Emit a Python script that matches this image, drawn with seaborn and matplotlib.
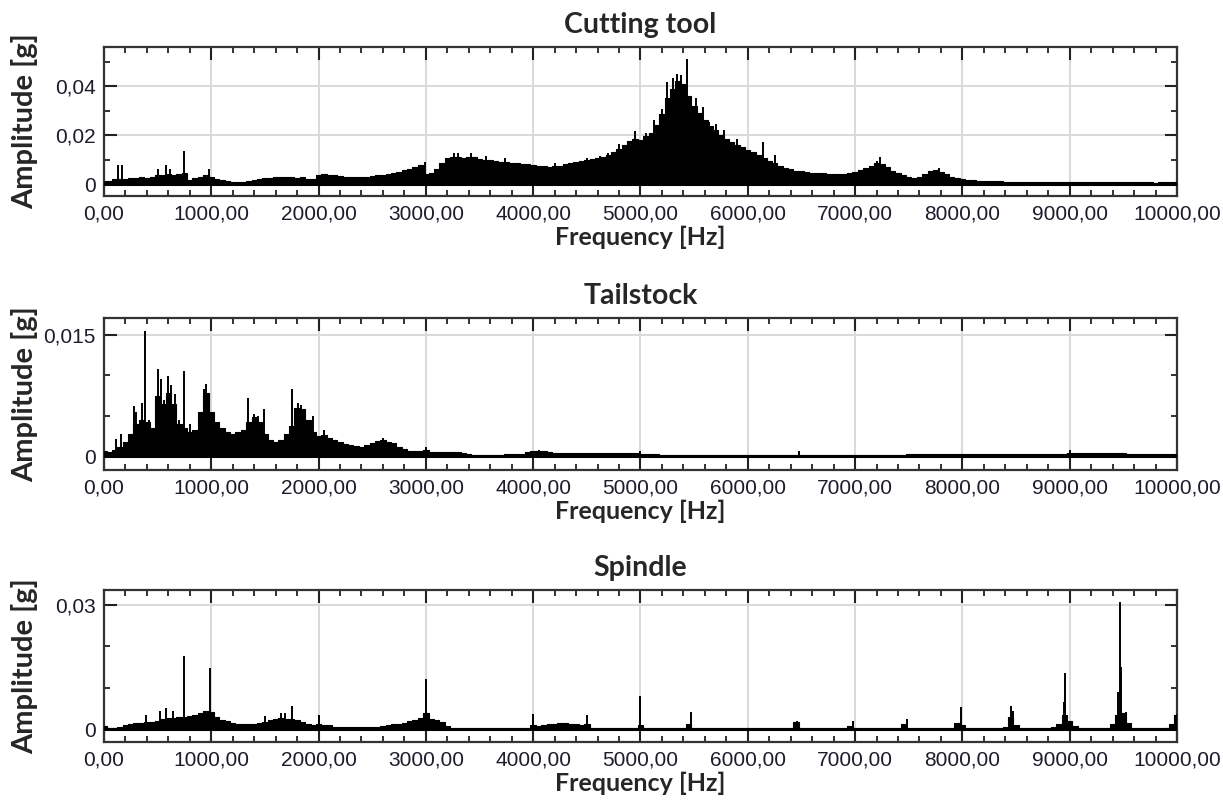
import numpy as np
import matplotlib
matplotlib.use("Agg")
import matplotlib.pyplot as plt
import seaborn as sns
from matplotlib.ticker import FixedLocator, FixedFormatter, MultipleLocator

# ---------------- data ----------------
freq = np.arange(0, 10001, 50)  # 50 Hz sampling of the envelope

titles = ["Cutting tool", "Tailstock", "Spindle"]

cutting_env = (
    [0.0013, 0.0013, 0.0020, 0.0020, 0.0022, 0.0025, 0.0025, 0.0027, 0.0025, 0.0030,
     0.0035, 0.0038, 0.0040, 0.0035, 0.0040, 0.0045, 0.0015, 0.0025, 0.0030, 0.0035] +
    [0.0030, 0.0020, 0.0018, 0.0012, 0.0010, 0.0010, 0.0010, 0.0011, 0.0015, 0.0020,
     0.0025, 0.0025, 0.0028, 0.0027, 0.0030, 0.0028, 0.0025, 0.0027, 0.0020, 0.0022] +
    [0.0035, 0.0040, 0.0038, 0.0036, 0.0033, 0.0030, 0.0028, 0.0027, 0.0028, 0.0030,
     0.0033, 0.0035, 0.0037, 0.0040, 0.0045, 0.0050, 0.0058, 0.0063, 0.0070, 0.0078] +
    [0.0040, 0.0045, 0.0060, 0.0085, 0.0105, 0.0110, 0.0112, 0.0108, 0.0112, 0.0110,
     0.0102, 0.0100, 0.0098, 0.0095, 0.0090, 0.0088, 0.0085, 0.0087, 0.0083, 0.0080] +
    [0.0078, 0.0075, 0.0073, 0.0070, 0.0072, 0.0075, 0.0080, 0.0085, 0.0088, 0.0095,
     0.0100, 0.0102, 0.0105, 0.0110, 0.0120, 0.0130, 0.0145, 0.0160, 0.0175, 0.0185] +
    [0.0180, 0.0195, 0.0210, 0.0240, 0.0285, 0.0350, 0.0390, 0.0420, 0.0410, 0.0360,
     0.0320, 0.0290, 0.0260, 0.0235, 0.0220, 0.0200, 0.0185, 0.0170, 0.0160, 0.0150] +
    [0.0140, 0.0130, 0.0120, 0.0105, 0.0095, 0.0085, 0.0073, 0.0065, 0.0060, 0.0055,
     0.0052, 0.0050, 0.0047, 0.0045, 0.0043, 0.0040, 0.0042, 0.0040, 0.0042, 0.0045] +
    [0.0050, 0.0058, 0.0065, 0.0075, 0.0085, 0.0080, 0.0070, 0.0055, 0.0045, 0.0035,
     0.0030, 0.0025, 0.0028, 0.0040, 0.0055, 0.0058, 0.0050, 0.0040, 0.0030, 0.0025] +
    [0.0020, 0.0018, 0.0015, 0.0014, 0.0013, 0.0012, 0.0012, 0.0011, 0.0010, 0.0009] +
    [0.0009] * 10 +
    [0.0009] * 16 + [0.0004] + [0.0009] * 3 +
    [0.0009]
)
cutting_peak_f = [130, 170, 505, 580, 620, 745, 980, 2990, 3260, 3300, 3420, 3560, 3740,
                  4200, 4500, 4620, 4700, 4800, 4950, 5050, 5130, 5200, 5250, 5300, 5340,
                  5380, 5430, 5470, 5520, 5580, 5640, 5700, 5780, 5900, 6140, 6250, 7200,
                  7230, 7780]
cutting_peak_a = [0.0077, 0.0077, 0.0060, 0.0077, 0.0060, 0.0133, 0.0060, 0.0090, 0.0127,
                  0.0125, 0.0125, 0.0115, 0.0105, 0.0085, 0.0107, 0.0115, 0.0127, 0.0165,
                  0.0216, 0.0210, 0.0260, 0.0307, 0.0415, 0.0435, 0.0450, 0.0445, 0.0510,
                  0.0360, 0.0350, 0.0315, 0.0255, 0.0245, 0.0220, 0.0185, 0.0173, 0.0120,
                  0.0095, 0.0110, 0.0065]

tail_env = (
    [0.0006, 0.0005, 0.0008, 0.0012, 0.0018, 0.0028, 0.0040, 0.0045, 0.0042, 0.0035,
     0.0075, 0.0065, 0.0078, 0.0065, 0.0040, 0.0035, 0.0030, 0.0032, 0.0055, 0.0078] +
    [0.0055, 0.0042, 0.0035, 0.0030, 0.0027, 0.0030, 0.0033, 0.0042, 0.0048, 0.0042,
     0.0028, 0.0020, 0.0018, 0.0020, 0.0028, 0.0038, 0.0060, 0.0058, 0.0045, 0.0030] +
    [0.0025, 0.0026, 0.0022, 0.0020, 0.0018, 0.0015, 0.0014, 0.0013, 0.0012, 0.0014,
     0.0017, 0.0019, 0.0020, 0.0018, 0.0016, 0.0012, 0.0009, 0.0007, 0.0006, 0.0006] +
    [0.0008, 0.0005, 0.0005, 0.0005, 0.0005, 0.0005, 0.0005, 0.0004, 0.0003, 0.0002,
     0.0002, 0.0002, 0.0002, 0.0002, 0.0002, 0.0003, 0.0003, 0.0003, 0.0003, 0.0005] +
    [0.0007, 0.0007, 0.0006, 0.0005] + [0.0004] * 16 +
    [0.0003, 0.0003, 0.0003, 0.0003, 0.0002, 0.0001, 0.0002, 0.0001, 0.0002, 0.0001] +
    [0.0001] * 10 +
    [0.0001] * 20 +
    [0.0001] * 9 + [0.0002] + [0.0003] * 10 +
    [0.0003] * 20 +
    [0.0004] * 10 + [0.0004] + [0.0003] * 9 +
    [0.0003]
)
tail_peak_f = [113, 160, 230, 280, 300, 350, 380, 420, 505, 530, 560, 600, 625, 660, 700,
               750, 800, 930, 950, 1340, 1400, 1440, 1490, 1750, 1810, 1840, 1945, 2050,
               2600, 3000, 4050, 5000, 6480, 9000]
tail_peak_a = [0.0021, 0.0028, 0.0025, 0.0062, 0.0055, 0.0066, 0.0155, 0.0045, 0.0108,
               0.0096, 0.0070, 0.0099, 0.0088, 0.0077, 0.0045, 0.0106, 0.0040, 0.0083,
               0.0089, 0.0072, 0.0052, 0.0050, 0.0058, 0.0083, 0.0066, 0.0064, 0.0050,
               0.0032, 0.0023, 0.0012, 0.0008, 0.0007, 0.0006, 0.0008]

spindle_env = (
    [0.0008, 0.0002, 0.0002, 0.0006, 0.0010, 0.0013, 0.0016, 0.0015, 0.0017, 0.0018,
     0.0020, 0.0025, 0.0028, 0.0028, 0.0030, 0.0030, 0.0032, 0.0034, 0.0040, 0.0045] +
    [0.0042, 0.0030, 0.0022, 0.0020, 0.0015, 0.0013, 0.0012, 0.0012, 0.0013, 0.0015,
     0.0018, 0.0022, 0.0025, 0.0026, 0.0025, 0.0025, 0.0022, 0.0018, 0.0012, 0.0010] +
    [0.0012, 0.0010, 0.0009, 0.0006, 0.0005, 0.0005, 0.0005, 0.0005, 0.0005, 0.0005,
     0.0005, 0.0005, 0.0008, 0.0010, 0.0012, 0.0013, 0.0016, 0.0020, 0.0023, 0.0028] +
    [0.0040, 0.0025, 0.0022, 0.0018, 0.0008] + [0.0004] * 15 +
    [0.0010, 0.0008, 0.0010, 0.0012, 0.0013, 0.0014, 0.0014, 0.0013, 0.0012, 0.0010,
     0.0012] + [0.0003] * 9 +
    [0.0010] + [0.0002] * 8 + [0.0012] + [0.0002] * 10 +
    [0.0002] * 9 + [0.0018] + [0.0002] * 8 + [0.0003, 0.0008] +
    [0.0004] + [0.0002] * 8 + [0.0012] + [0.0002] * 8 + [0.0004, 0.0015] +
    [0.0010] + [0.0002] * 7 + [0.0006, 0.0030, 0.0010] + [0.0002] * 6 + [0.0006, 0.0012, 0.0035] +
    [0.0020, 0.0008] + [0.0002] * 6 + [0.0012, 0.0035, 0.0040, 0.0015] + [0.0003] * 7 + [0.0012] +
    [0.0035]
)
spindle_peak_f = [390, 520, 580, 640, 745, 985, 1500, 1650, 1690, 1750, 2000, 3000, 4000,
                  4500, 5000, 5470, 6460, 6980, 7480, 7985, 8450, 8470, 8950, 8960, 9020,
                  9450, 9470, 9480, 9520, 10000]
spindle_peak_a = [0.0034, 0.0045, 0.0050, 0.0045, 0.0176, 0.0147, 0.0031, 0.0040, 0.0040,
                  0.0057, 0.0033, 0.0120, 0.0037, 0.0034, 0.0079, 0.0041, 0.0019, 0.0019,
                  0.0025, 0.0053, 0.0057, 0.0045, 0.0065, 0.0135, 0.0016, 0.0090, 0.0306,
                  0.0150, 0.0041, 0.0037]

envs = [cutting_env, tail_env, spindle_env]
peaks_f = [cutting_peak_f, tail_peak_f, spindle_peak_f]
peaks_a = [cutting_peak_a, tail_peak_a, spindle_peak_a]

x_ticks = [0, 1000, 2000, 3000, 4000, 5000, 6000, 7000, 8000, 9000, 10000]
x_tick_labels = ["0,00", "1000,00", "2000,00", "3000,00", "4000,00", "5000,00",
                 "6000,00", "7000,00", "8000,00", "9000,00", "10000,00"]
y_ticks = [[0, 0.02, 0.04], [0, 0.015], [0, 0.03]]
y_tick_labels = [["0", "0,02", "0,04"], ["0", "0,015"], ["0", "0,03"]]
y_minor = [[0.01, 0.03, 0.05], [0.005, 0.01], [0.01, 0.02]]
y_lims = [(-0.0049, 0.0559), (-0.0017, 0.0171), (-0.0031, 0.0336)]

# ---------------- plotting ----------------
sns.set_style("white")
plt.rcParams["font.family"] = ["Liberation Sans", "DejaVu Sans"]

fig = plt.figure(figsize=(12.23, 8.0), dpi=100)
positions = [
    [0.085, 0.755, 0.8774, 0.186],
    [0.085, 0.4125, 0.8774, 0.19],
    [0.085, 0.0725, 0.8774, 0.19],
]

title_font = dict(family=["Lato", "DejaVu Sans"], weight="bold", size=20.5)
ylabel_font = dict(family=["Lato", "DejaVu Sans"], weight="bold", size=21)
xlabel_font = dict(family=["Lato", "DejaVu Sans"], weight="bold", size=18)
tick_color = "#1c1c2c"

for i in range(3):
    ax = fig.add_axes(positions[i])
    env = np.array(envs[i])
    assert len(env) == len(freq), (i, len(env))
    ax.fill_between(freq, 0, env, step="mid", color="black", lw=0, zorder=3)
    sns.lineplot(x=freq, y=env, drawstyle="steps-mid", color="black", lw=0.8, ax=ax,
                 zorder=3, legend=False)
    ax.vlines(peaks_f[i], 0, peaks_a[i], color="black", lw=1.4, zorder=3)
    ax.axhline(0, color="black", lw=2.2, zorder=4)

    ax.set_xlim(0, 10000)
    ax.set_ylim(*y_lims[i])

    ax.xaxis.set_major_locator(FixedLocator(x_ticks))
    ax.xaxis.set_major_formatter(FixedFormatter(x_tick_labels))
    ax.xaxis.set_minor_locator(MultipleLocator(200))
    ax.yaxis.set_major_locator(FixedLocator(y_ticks[i]))
    ax.yaxis.set_major_formatter(FixedFormatter(y_tick_labels[i]))
    ax.yaxis.set_minor_locator(FixedLocator(y_minor[i]))

    ax.grid(True, which="major", color="#d9d9d9", lw=1.4, zorder=0)
    ax.set_axisbelow(True)

    ax.tick_params(which="both", direction="in", top=True, right=True,
                   bottom=True, left=True, colors="#222222", labelcolor=tick_color,
                   labelsize=15)
    ax.tick_params(which="major", length=9, width=1.5, pad=6)
    ax.tick_params(which="minor", length=4.5, width=1.3)
    for s in ax.spines.values():
        s.set_color("#333333")
        s.set_linewidth(1.6)
        s.set_visible(True)

    ax.set_title(titles[i], fontdict=title_font, pad=10)
    ax.set_xlabel("Frequency [Hz]", fontdict=xlabel_font, labelpad=2)
    ax.set_ylabel("Amplitude [g]", fontdict=ylabel_font)
    ax.yaxis.set_label_coords(-0.061, 0.5)

fig.savefig("out.png", dpi=100)
